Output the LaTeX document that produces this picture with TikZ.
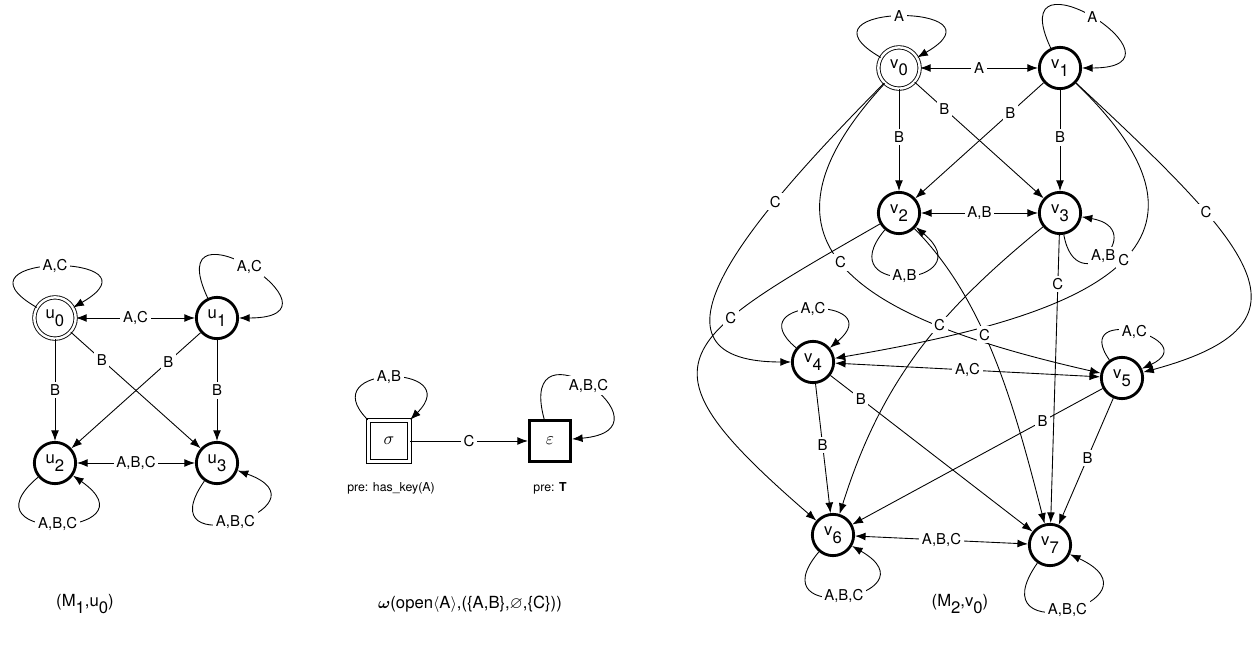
\documentclass[tikz,border=0pt]{standalone}
\usepackage{amsmath,amssymb}
\usepackage{fontspec}
\setmainfont{TeX Gyre Heros}
\usetikzlibrary{shapes,arrows.meta}

\newcommand{\lowsub}[2]{#1\raisebox{-0.45em}{#2}}

\tikzstyle{state} = [circle, draw, line width=1.6pt,
    minimum size=23.5pt, inner sep=0pt, font=\fontsize{9.5}{10}\selectfont]
\tikzstyle{init} = [circle, draw, double, line width=0.5pt, double distance=1.4pt,
    minimum size=23.5pt, inner sep=0pt, font=\fontsize{9.5}{10}\selectfont]
\tikzstyle{act} = [rectangle, draw, line width=1.6pt,
    minimum size=23.5pt, inner sep=0pt]
\tikzstyle{initact} = [rectangle, draw, double, line width=0.6pt, double distance=1.6pt,
    minimum size=23.5pt, inner sep=0pt]
\tikzstyle{lbl} = [fill=white, inner sep=1.5pt, font=\fontsize{8.5}{9}\selectfont]
\tikzstyle{pretxt} = [font=\fontsize{7}{8}\selectfont]
\tikzstyle{captxt} = [font=\fontsize{9.5}{10}\selectfont]

\begin{document}
\begin{tikzpicture}[>={Latex[length=6pt,width=4.5pt]}, line width=0.5pt]
    \useasboundingbox (0,0) rectangle (25.16,12.90);

    % (M1,u0)
    \node (u0) [init] at (1.10,6.54) {\lowsub{u}{0}};
    \node (u1) [state] at (4.34,6.54) {\lowsub{u}{1}};
    \node (u2) [state] at (1.10,3.64) {\lowsub{u}{2}};
    \node (u3) [state] at (4.34,3.64) {\lowsub{u}{3}};

    \draw [<->] (u0) -- node[lbl] {A,C} (u1);
    \draw [->] (u0) -- node[lbl] {B} (u2);
    \draw [->] (u0) -- node[lbl, pos=0.24] {B} (u3);
    \draw [->] (u1) -- node[lbl, pos=0.25] {B} (u2);
    \draw [->] (u1) -- node[lbl] {B} (u3);
    \draw [<->] (u2) -- node[lbl] {A,B,C} (u3);

    \draw [->] (u0) to[out=150, in=30, distance=2.2cm] node[lbl] {A,C} (u0);
    \draw [->] (u1) to[out=115, in=0, distance=2.4cm] node[lbl] {A,C} (u1);
    \draw [->] (u2) to[out=220, in=325, distance=2.1cm] node[lbl] {A,B,C} (u2);
    \draw [->] (u3) to[out=235, in=340, distance=2.1cm] node[lbl] {A,B,C} (u3);

    % omega
    \node (sig) [initact] at (7.78,4.08) {$\sigma$};
    \node (eps) [act] at (11.00,4.08) {$\varepsilon$};
    \node (pre1) [pretxt] at (7.82,3.14) {pre: has\_key(A)};
    \node (pre2) [pretxt] at (11.00,3.14) {pre: \textbf{T}};

    \draw [->] (sig) -- node[lbl] {C} (eps);
    \draw [->] (sig) to[out=135, in=45, distance=1.6cm] node[lbl] {A,B} (sig);
    \draw [->] (eps) to[out=105, in=5, distance=2.2cm] node[lbl] {A,B,C} (eps);

    % (M2,v0)
    \node (v0) [init] at (17.98,11.54) {\lowsub{v}{0}};
    \node (v1) [state] at (21.20,11.54) {\lowsub{v}{1}};
    \node (v2) [state] at (17.98,8.64) {\lowsub{v}{2}};
    \node (v3) [state] at (21.20,8.64) {\lowsub{v}{3}};
    \node (v4) [state] at (16.26,5.66) {\lowsub{v}{4}};
    \node (v5) [state] at (22.44,5.34) {\lowsub{v}{5}};
    \node (v6) [state] at (16.66,2.20) {\lowsub{v}{6}};
    \node (v7) [state] at (21.00,2.00) {\lowsub{v}{7}};

    % long C edges first
    \draw [->] (v0) .. controls (15.24,8.76) and (12.44,5.66) .. node[lbl, pos=0.31] {C} (v4);
    \draw [->] (v2) .. controls (13.42,6.02) and (12.66,5.66) .. node[lbl, pos=0.33] {C} (v6);
    \draw [->] (v0) .. controls (14.64,7.92) and (17.34,6.50) .. node[lbl, pos=0.47] {C} (v5);
    \draw [->] (v1) .. controls (25.20,7.70) and (21.20,6.50) .. node[lbl, pos=0.45] {C} (v4);
    \draw [->] (v1) .. controls (25.06,7.94) and (26.50,6.44) .. node[lbl, pos=0.31] {C} (v5);
    \draw [->] (v2) .. controls (19.70,6.90) and (20.28,4.82) .. node[lbl, pos=0.42] {C} (v7);
    \draw [->] (v3) .. controls (18.82,6.70) and (17.64,5.32) .. node[lbl, pos=0.4] {C} (v6);
    \draw [->] (v3) -- node[lbl, pos=0.17] {C} (v7);

    \draw [<->] (v0) -- node[lbl] {A} (v1);
    \draw [->] (v0) -- node[lbl, pos=0.47] {B} (v2);
    \draw [->] (v0) -- node[lbl, pos=0.23] {B} (v3);
    \draw [->] (v1) -- node[lbl, pos=0.26] {B} (v2);
    \draw [->] (v1) -- node[lbl, pos=0.47] {B} (v3);
    \draw [<->] (v2) -- node[lbl] {A,B} (v3);
    \draw [<->] (v4) -- node[lbl] {A,C} (v5);
    \draw [->] (v4) -- node[lbl, pos=0.47] {B} (v6);
    \draw [->] (v4) -- node[lbl, pos=0.15] {B} (v7);
    \draw [->] (v5) -- node[lbl, pos=0.24] {B} (v6);
    \draw [->] (v5) -- node[lbl, pos=0.47] {B} (v7);
    \draw [<->] (v6) -- node[lbl] {A,B,C} (v7);

    \draw [->] (v0) to[out=150, in=30, distance=2.2cm] node[lbl] {A} (v0);
    \draw [->] (v1) to[out=115, in=0, distance=2.4cm] node[lbl] {A} (v1);
    \draw [->] (v2) to[out=230, in=320, distance=1.8cm] node[lbl] {A,B} (v2);
    \draw [->] (v3) to[out=280, in=350, distance=1.4cm] node[lbl] {A,B} (v3);
    \draw [->] (v4) to[out=140, in=40, distance=1.6cm] node[lbl] {A,C} (v4);
    \draw [->] (v5) to[out=125, in=25, distance=1.4cm] node[lbl] {A,C} (v5);
    \draw [->] (v6) to[out=230, in=330, distance=2.0cm] node[lbl] {A,B,C} (v6);
    \draw [->] (v7) to[out=235, in=335, distance=2.2cm] node[lbl] {A,B,C} (v7);

    % captions
    \node (cap1) [captxt] at (1.70,0.82) {(\lowsub{M}{1},\lowsub{u}{0})};
    \node (cap2) [captxt] at (9.40,0.82) {$\boldsymbol{\omega}$(open$\langle$A$\rangle$,(\{A,B\},$\varnothing$,\{C\}))};
    \node (cap3) [captxt] at (19.20,0.82) {(\lowsub{M}{2},\lowsub{v}{0})};
\end{tikzpicture}
\end{document}
